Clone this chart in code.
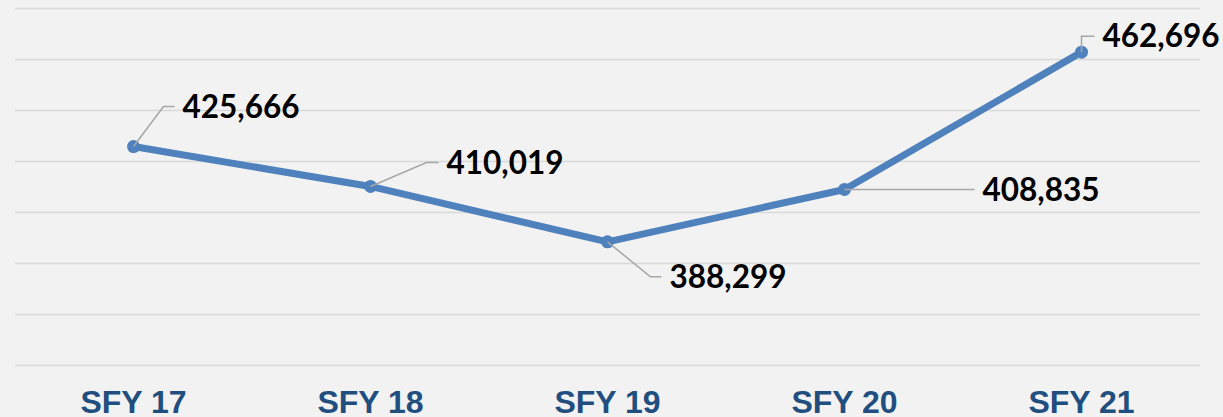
<!DOCTYPE html>
<html>
<head>
<meta charset="utf-8">
<script src="https://cdn.jsdelivr.net/npm/d3@7"></script>
<style>
  html, body { margin: 0; padding: 0; background: #f2f2f2; }
  svg { display: block; }
</style>
</head>
<body>
<div id="chart"></div>
<script>
const categories = ['SFY 17', 'SFY 18', 'SFY 19', 'SFY 20', 'SFY 21']
const values = [425666, 410019, 388299, 408835, 462696]
const gridTicks = [340000, 360000, 380000, 400000, 420000, 440000, 460000, 480000]

// leader line layout for each label: elbow (ex, ey) and end x, relative to point
const leaders = [
  { ex: 30, ey: -40, end: 41 },
  { ex: 56, ey: -24, end: 68 },
  { ex: 43, ey: 35, end: 54 },
  { ex: 0, ey: 0, end: 130 },
  { ex: 0, ey: -16, end: 13 }
]

const width = 1223
const height = 417

const svg = d3
  .select('#chart')
  .append('svg')
  .attr('width', width)
  .attr('height', height)

svg
  .append('rect')
  .attr('width', width)
  .attr('height', height)
  .attr('fill', '#f2f2f2')

const xScale = d3
  .scalePoint()
  .domain(categories)
  .range([15, 1200])
  .padding(0.5)

const yScale = d3
  .scaleLinear()
  .domain([340000, 480000])
  .range([365, 8])

// gridlines
svg
  .selectAll('.grid')
  .data(gridTicks)
  .enter()
  .append('line')
  .attr('class', 'grid')
  .attr('x1', 15)
  .attr('x2', 1200)
  .attr('y1', d => Math.round(yScale(d)) + 0.5)
  .attr('y2', d => Math.round(yScale(d)) + 0.5)
  .attr('stroke', '#d9d9d9')
  .attr('stroke-width', 1.5)

// x axis labels
svg
  .selectAll('.x-label')
  .data(categories)
  .enter()
  .append('text')
  .attr('class', 'x-label')
  .attr('x', d => xScale(d))
  .attr('y', 413)
  .attr('text-anchor', 'middle')
  .attr('font-family', '"Liberation Sans", Arial, sans-serif')
  .attr('font-weight', 700)
  .attr('font-size', 32)
  .attr('fill', '#1f4e7f')
  .text(d => d)

const datapoints = categories.map((c, i) => ({ cat: c, value: values[i], leader: leaders[i] }))

const line = d3
  .line()
  .x(d => xScale(d.cat))
  .y(d => yScale(d.value))

svg
  .append('path')
  .datum(datapoints)
  .attr('d', line)
  .attr('fill', 'none')
  .attr('stroke', '#4f81bd')
  .attr('stroke-width', 7)
  .attr('stroke-linejoin', 'round')

svg
  .selectAll('.dot')
  .data(datapoints)
  .enter()
  .append('circle')
  .attr('class', 'dot')
  .attr('cx', d => xScale(d.cat))
  .attr('cy', d => yScale(d.value))
  .attr('r', 6.5)
  .attr('fill', '#4f81bd')

// leader lines
svg
  .selectAll('.leader')
  .data(datapoints)
  .enter()
  .append('polyline')
  .attr('class', 'leader')
  .attr('points', d => {
    const px = xScale(d.cat)
    const py = yScale(d.value)
    const l = d.leader
    return [
      [px, py],
      [px + l.ex, py + l.ey],
      [px + l.end, py + l.ey]
    ].join(' ')
  })
  .attr('fill', 'none')
  .attr('stroke', '#a6a6a6')
  .attr('stroke-width', 1.5)

svg
  .selectAll('.value-label')
  .data(datapoints)
  .enter()
  .append('text')
  .attr('class', 'value-label')
  .attr('x', d => xScale(d.cat) + d.leader.end + 8)
  .attr('y', d => yScale(d.value) + d.leader.ey)
  .attr('dy', '0.36em')
  .attr('font-family', 'Lato, sans-serif')
  .attr('font-weight', 700)
  .attr('font-size', 31.5)
  .attr('fill', '#000')
  .text(d => d3.format(',')(d.value))
</script>
</body>
</html>
